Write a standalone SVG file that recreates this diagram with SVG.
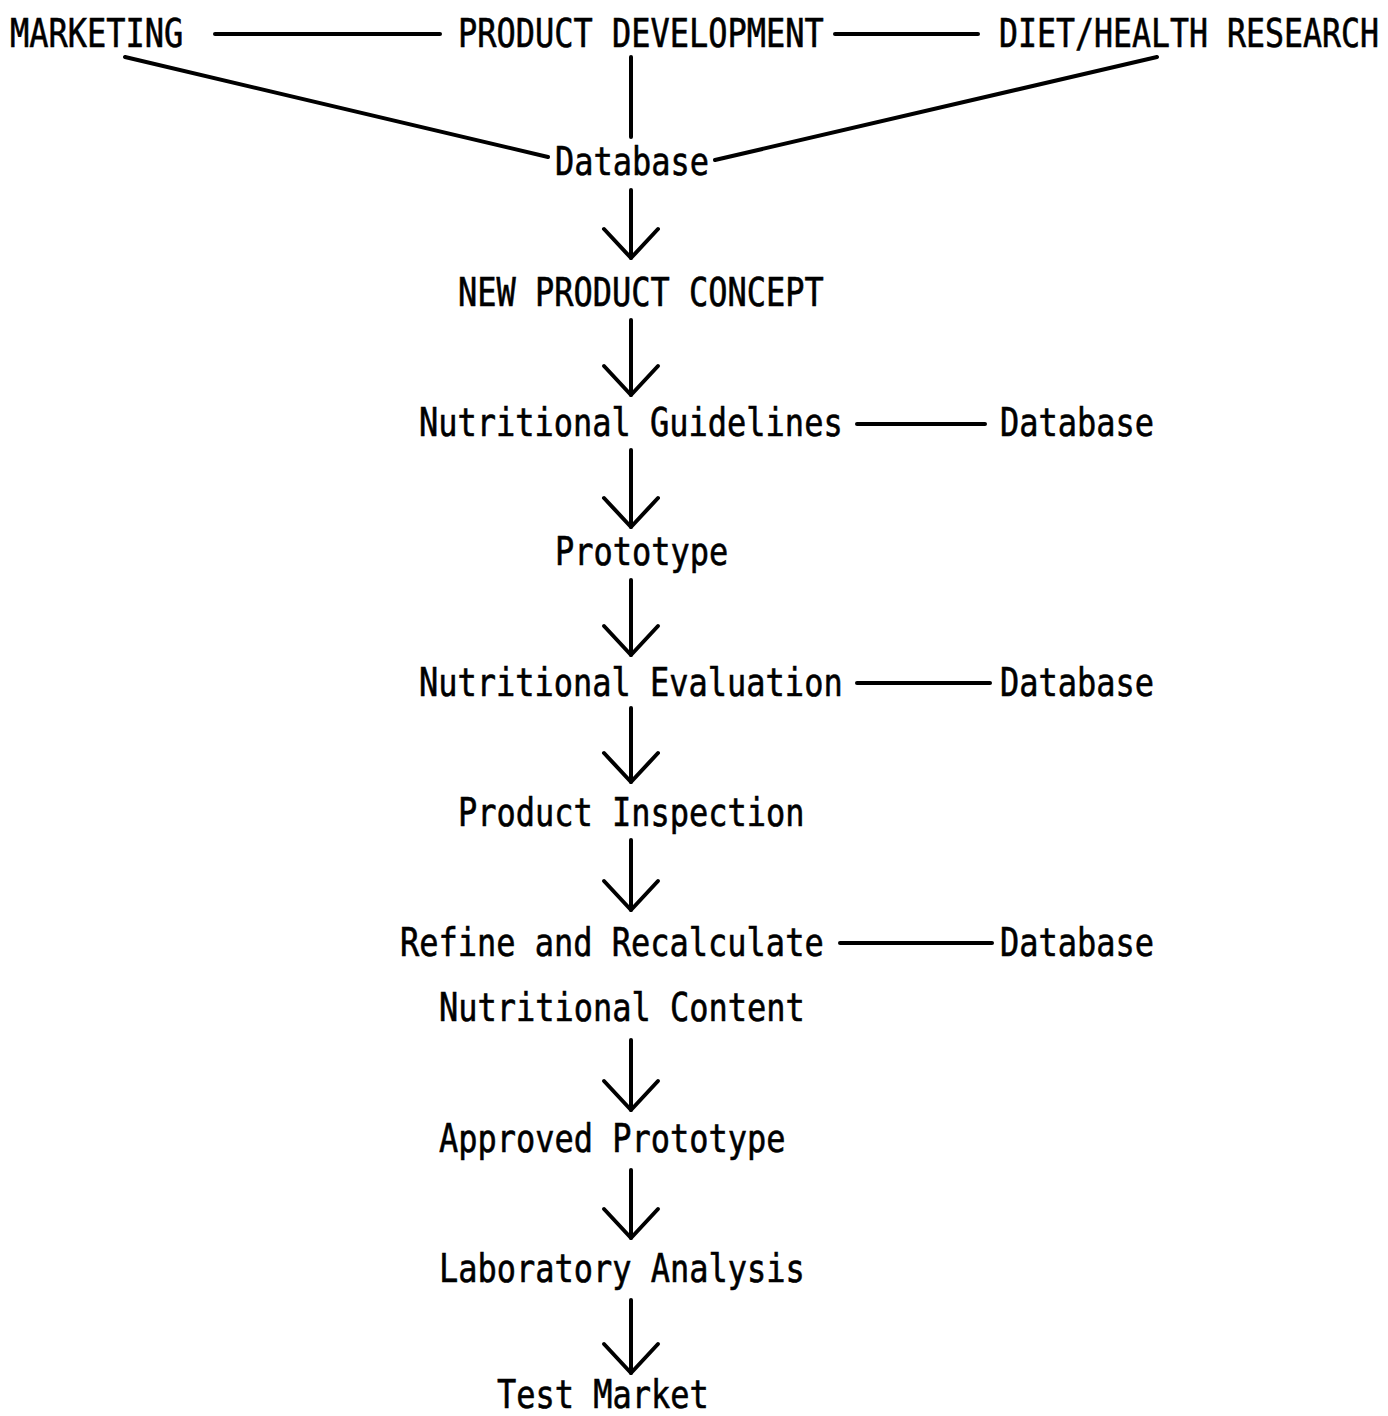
<svg xmlns="http://www.w3.org/2000/svg" width="1388" height="1416" viewBox="0 0 1388 1416">
<style>
text{font-family:"DejaVu Sans Mono","Liberation Mono",monospace;font-size:32px;fill:#000;stroke:#000;stroke-width:0.5px;}
.c{stroke:#000;stroke-width:4;fill:none;stroke-linecap:round;stroke-linejoin:round;}
</style>
<defs>
<marker id="v" markerUnits="userSpaceOnUse" orient="auto" refX="0" refY="0" markerWidth="60" markerHeight="60" overflow="visible">
<path d="M-29,-27 L0,0 L-29,27" fill="none" stroke="#000" stroke-width="4" stroke-linecap="round" stroke-linejoin="round"/>
</marker>
</defs>
<rect width="1388" height="1416" fill="#fff"/>
<g id="connectors">
<line class="c" x1="215" y1="34" x2="440" y2="34"/>
<line class="c" x1="835" y1="34" x2="978" y2="34"/>
<line class="c" x1="125" y1="57" x2="548" y2="157"/>
<line class="c" x1="631" y1="57" x2="631" y2="137"/>
<line class="c" x1="1157" y1="57" x2="715" y2="160"/>
<line class="c" x1="631" y1="190" x2="631" y2="258" marker-end="url(#v)"/>
<line class="c" x1="631" y1="320" x2="631" y2="395" marker-end="url(#v)"/>
<line class="c" x1="631" y1="450" x2="631" y2="527" marker-end="url(#v)"/>
<line class="c" x1="631" y1="580" x2="631" y2="655" marker-end="url(#v)"/>
<line class="c" x1="631" y1="708" x2="631" y2="782" marker-end="url(#v)"/>
<line class="c" x1="631" y1="840" x2="631" y2="910" marker-end="url(#v)"/>
<line class="c" x1="631" y1="1040" x2="631" y2="1110" marker-end="url(#v)"/>
<line class="c" x1="631" y1="1170" x2="631" y2="1238" marker-end="url(#v)"/>
<line class="c" x1="631" y1="1300" x2="631" y2="1373" marker-end="url(#v)"/>
<line class="c" x1="857" y1="424" x2="985" y2="424"/>
<line class="c" x1="857" y1="683" x2="990" y2="683"/>
<line class="c" x1="840" y1="943" x2="992" y2="943"/>
</g>
<g id="marketing"><text transform="translate(10,47) scale(1,1.2)">MARKETING</text></g>
<g id="product-development"><text transform="translate(458,47) scale(1,1.2)">PRODUCT DEVELOPMENT</text></g>
<g id="diet-health-research"><text transform="translate(999,47) scale(1,1.2)" textLength="380" lengthAdjust="spacingAndGlyphs">DIET/HEALTH RESEARCH</text></g>
<g id="database-top"><text transform="translate(555,175) scale(1,1.2)">Database</text></g>
<g id="new-product-concept"><text transform="translate(458,306) scale(1,1.2)">NEW PRODUCT CONCEPT</text></g>
<g id="nutritional-guidelines"><text transform="translate(419,436) scale(1,1.2)">Nutritional Guidelines</text></g>
<g id="database-1"><text transform="translate(1000,436) scale(1,1.2)">Database</text></g>
<g id="prototype"><text transform="translate(555,565) scale(1,1.2)">Prototype</text></g>
<g id="nutritional-evaluation"><text transform="translate(419,696) scale(1,1.2)">Nutritional Evaluation</text></g>
<g id="database-2"><text transform="translate(1000,696) scale(1,1.2)">Database</text></g>
<g id="product-inspection"><text transform="translate(458,826) scale(1,1.2)">Product Inspection</text></g>
<g id="refine">
<text transform="translate(400,956) scale(1,1.2)">Refine and Recalculate</text>
<text transform="translate(439,1021) scale(1,1.2)">Nutritional Content</text>
</g>
<g id="database-3"><text transform="translate(1000,956) scale(1,1.2)">Database</text></g>
<g id="approved-prototype"><text transform="translate(439,1152) scale(1,1.2)">Approved Prototype</text></g>
<g id="laboratory-analysis"><text transform="translate(439,1282) scale(1,1.2)">Laboratory Analysis</text></g>
<g id="test-market"><text transform="translate(497,1408) scale(1,1.2)">Test Market</text></g>
</svg>
